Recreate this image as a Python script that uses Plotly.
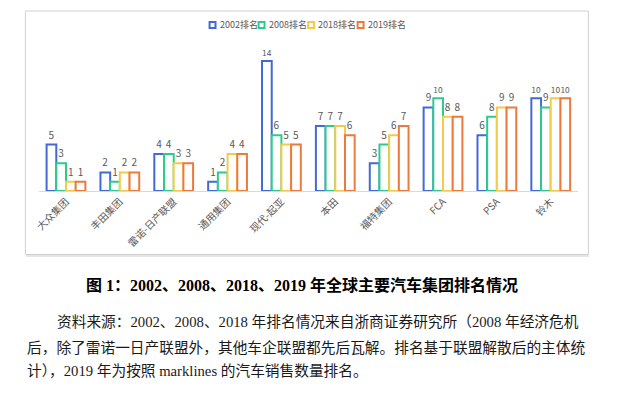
import plotly.graph_objects as go

categories = ["大众集团", "丰田集团", "雷诺-日产联盟", "通用集团", "现代-起亚",
              "本田", "福特集团", "FCA", "PSA", "铃木"]
series_names = ["2002排名", "2008排名", "2018排名", "2019排名"]
rank_2002 = [5, 2, 4, 1, 14, 7, 3, 9, 6, 10]
rank_2008 = [3, 1, 4, 2, 6, 7, 5, 10, 8, 9]
rank_2018 = [1, 2, 3, 4, 5, 7, 6, 8, 9, 10]
rank_2019 = [1, 2, 3, 4, 5, 6, 7, 8, 9, 10]
colors = ["#4169D8", "#2CCB8C", "#F7C948", "#EC7A3C"]

# page body has an 8px default margin; map window pixels to paper fractions
OFF = 8
W, H = 617, 390

def px_x(p):
    return (p - OFF) / W

def px_y(p):
    return 1 - (p - OFF) / H

fig = go.Figure()
for name, vals, col in zip(series_names, [rank_2002, rank_2008, rank_2018, rank_2019], colors):
    fig.add_trace(go.Bar(
        x=categories, y=vals, name=name,
        marker=dict(color="white", line=dict(color=col, width=2)),
        text=[str(v) for v in vals], textposition="outside",
        textfont=dict(size=10, color="#595959", family="Noto Sans CJK SC"),
        cliponaxis=False, showlegend=False,
    ))

fig.update_layout(
    width=W, height=H,
    margin=dict(l=0, r=0, t=0, b=0),
    paper_bgcolor="white", plot_bgcolor="white",
    barmode="group", bargap=0.28, bargroupgap=0,
    showlegend=False,
    xaxis=dict(domain=[px_x(33.3), px_x(577.2)], showgrid=False, zeroline=False,
               showline=True, linecolor="#d9d9d9", linewidth=1,
               tickangle=-45, ticks="",
               tickfont=dict(size=10, color="#595959", family="Noto Sans CJK SC")),
    yaxis=dict(domain=[px_y(191), px_y(40)], range=[0, 16.27], visible=False),
    font=dict(family="Noto Sans CJK SC"),
)

# chart frame
fig.add_shape(type="rect", xref="paper", yref="paper",
              x0=px_x(19.5), x1=px_x(588), y0=px_y(254.5), y1=px_y(11),
              line=dict(color="#d0d0d0", width=1), fillcolor="rgba(0,0,0,0)", layer="below")
fig.add_shape(type="line", xref="paper", yref="paper",
              x0=px_x(20), x1=px_x(588.5), y0=px_y(256), y1=px_y(256),
              line=dict(color="#e6e6e6", width=2))

# legend (compact, as in the reference)
legend_x = [208.5, 258, 308, 358]
for name, col, lx in zip(series_names, colors, legend_x):
    fig.add_shape(type="rect", xref="paper", yref="paper",
                  x0=px_x(lx - 3), x1=px_x(lx + 3), y0=px_y(28), y1=px_y(22),
                  line=dict(color=col, width=2), fillcolor="white")
    fig.add_annotation(text=name, xref="paper", yref="paper",
                       x=px_x(lx + 5), y=px_y(25), xanchor="left", yanchor="middle",
                       showarrow=False,
                       font=dict(size=9, color="#595959", family="Noto Sans CJK SC"))

serif_cjk = "Liberation Serif, Noto Sans CJK SC"
fig.add_annotation(text="<b>图 1：2002、2008、2018、2019 年全球主要汽车集团排名情况</b>",
                   xref="paper", yref="paper", x=px_x(299), y=px_y(285),
                   xanchor="center", yanchor="middle", showarrow=False,
                   font=dict(size=16, color="#000000", family=serif_cjk))

lines = [
    ("资料来源：2002、2008、2018 年排名情况来自浙商证券研究所（2008 年经济危机", 49, 322),
    ("后，除了雷诺一日产联盟外，其他车企联盟都先后瓦解。排名基于联盟解散后的主体统", 19, 347),
    ("计），2019 年为按照 marklines 的汽车销售数量排名。", 19, 371),
]
for txt, lx, ly in lines:
    fig.add_annotation(text=txt, xref="paper", yref="paper", x=px_x(lx), y=px_y(ly),
                       xanchor="left", yanchor="middle", showarrow=False,
                       font=dict(size=14.7, color="#1a1a1a", family=serif_cjk))

fig.write_html("out.html")
